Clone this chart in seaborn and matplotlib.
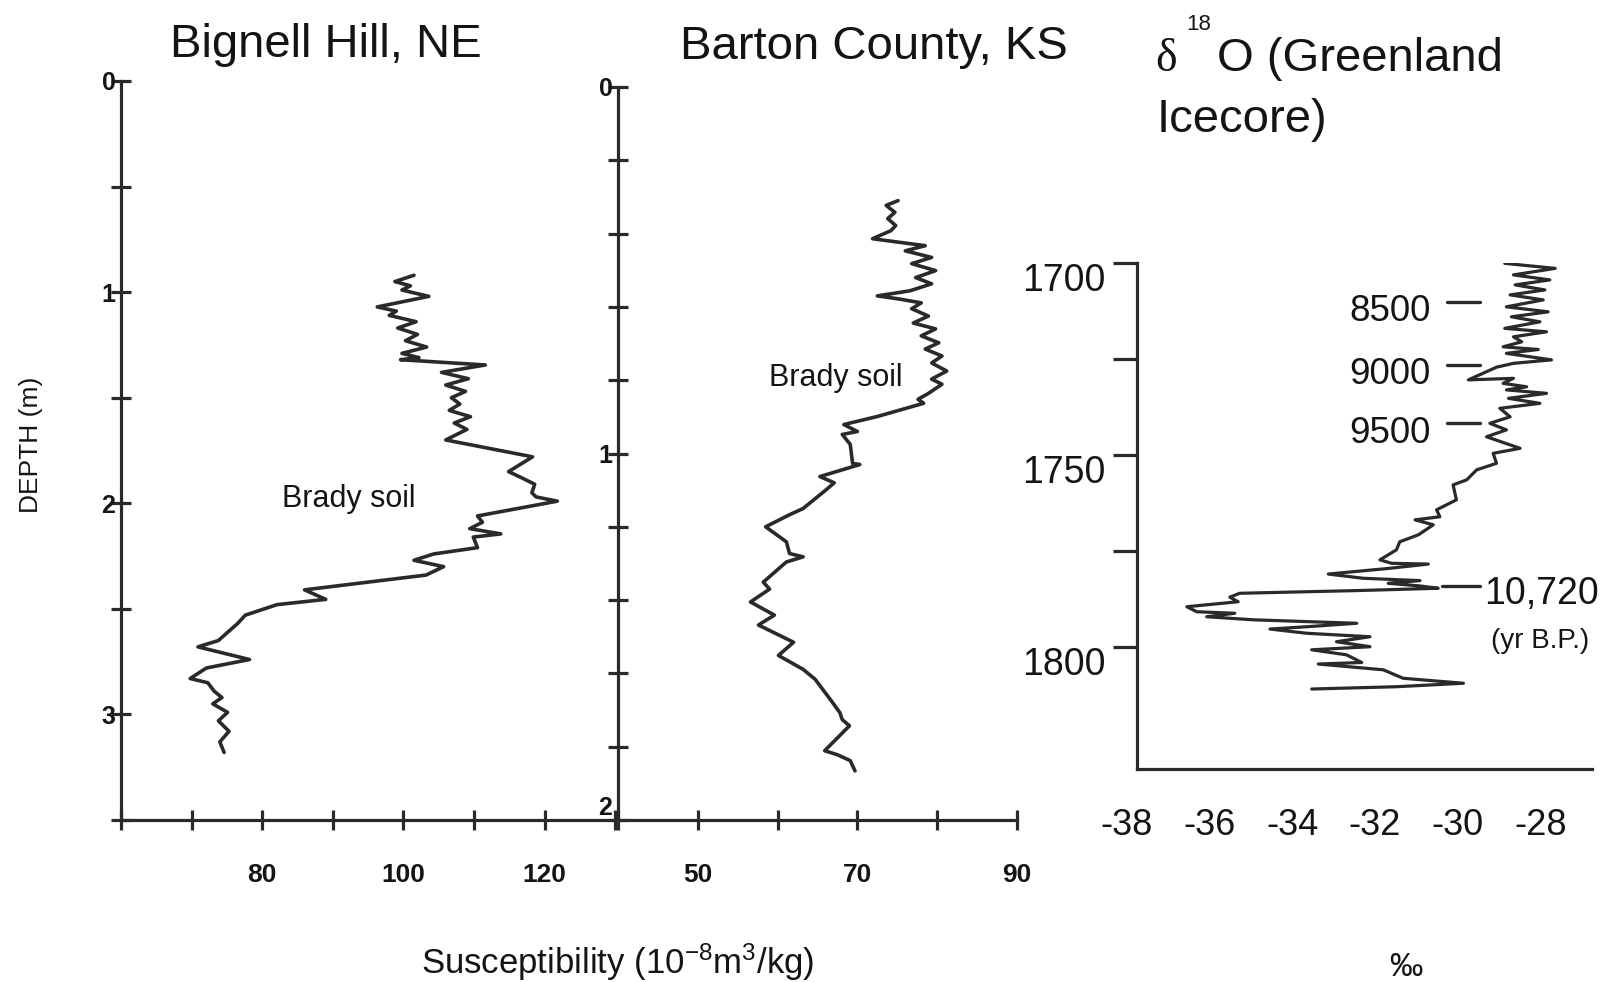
import numpy as np
import matplotlib
matplotlib.use('Agg')
import matplotlib.pyplot as plt
import seaborn as sns

# Bignell Hill, NE - depth (m) and susceptibility
bignell_depth = [0.92, 0.95, 0.97, 0.99, 1.02, 1.07, 1.09, 1.11, 1.14, 1.17, 1.20, 1.23, 1.26, 1.29, 1.31, 1.32,
                 1.345, 1.38, 1.41, 1.44, 1.47, 1.50, 1.53, 1.56, 1.59, 1.62, 1.65, 1.70,
                 1.78, 1.85, 1.88, 1.91, 1.95, 1.97, 1.99,
                 2.06, 2.09, 2.12, 2.145, 2.16, 2.21, 2.24, 2.27, 2.30, 2.34,
                 2.41, 2.455, 2.48, 2.53, 2.57, 2.62, 2.65, 2.68, 2.74, 2.78,
                 2.83, 2.85, 2.89, 2.92, 2.95, 2.99, 3.03, 3.08, 3.13, 3.18]
bignell_susc = [101.5, 98.8, 101.0, 99.8, 103.6, 96.3, 99.0, 98.0, 101.8, 99.2, 102.0, 100.3, 103.3, 99.8, 102.2, 99.6,
                111.6, 105.4, 109.2, 106.0, 108.8, 106.8, 108.0, 106.5, 109.5, 107.2, 109.0, 106.0,
                118.3, 114.9, 116.8, 118.6, 118.2, 118.8, 121.8,
                110.5, 111.2, 109.4, 113.8, 109.9, 110.5, 104.3, 101.5, 105.7, 103.2,
                86.0, 89.0, 82.1, 77.6, 76.5, 74.8, 73.8, 70.9, 78.2, 72.1,
                69.8, 72.3, 73.2, 74.3, 73.0, 75.1, 73.8, 75.3, 74.0, 74.6]

# Barton County, KS
barton_depth = [0.31, 0.323, 0.342, 0.359, 0.378, 0.392, 0.414, 0.433, 0.447, 0.465,
                0.482, 0.501, 0.52, 0.537, 0.556, 0.57, 0.578, 0.589, 0.605, 0.625,
                0.644, 0.66, 0.679, 0.698, 0.715, 0.734, 0.753, 0.775, 0.797, 0.811,
                0.836, 0.852, 0.863, 0.899, 0.921, 0.94, 0.948, 0.975, 1.027, 1.03,
                1.063, 1.08, 1.104, 1.15, 1.167, 1.2, 1.241, 1.273, 1.282, 1.296,
                1.351, 1.37, 1.405, 1.441, 1.468, 1.515, 1.551, 1.589, 1.616, 1.671,
                1.707, 1.726, 1.743, 1.811, 1.822, 1.838, 1.866]
barton_susc = [75.1, 73.6, 74.7, 73.8, 74.8, 74.2, 71.9, 78.5, 76.0, 79.3,
               76.8, 79.8, 77.3, 79.3, 76.6, 72.5, 75.1, 78.0, 76.8, 78.9,
               77.0, 79.8, 78.0, 80.2, 78.5, 80.6, 79.3, 81.2, 79.3, 80.6,
               78.9, 77.6, 78.3, 72.5, 68.3, 70.0, 68.1, 69.1, 69.4, 70.3,
               65.3, 67.1, 65.8, 63.2, 61.5, 58.5, 61.1, 61.5, 63.2, 61.1,
               58.2, 59.0, 56.6, 59.6, 57.6, 62.0, 60.1, 63.2, 64.7, 66.6,
               67.8, 68.1, 69.0, 65.9, 67.5, 69.1, 69.7]

# Greenland ice core delta 18O
ice_depth = [1700.2, 1701.5, 1703.2, 1704.5, 1705.8, 1707.1, 1708.4, 1709.7, 1711.5, 1712.8, 1714.1,
             1715.4, 1717.1, 1718.0, 1719.3, 1720.6, 1721.9, 1722.6, 1723.6, 1725.3, 1726.2, 1727.2,
             1730.5, 1730.1, 1731.4, 1732.3, 1733.1, 1734.0, 1735.3, 1736.6, 1737.9, 1740.1, 1741.8,
             1743.5, 1745.3, 1748.3, 1749.6, 1752.2, 1753.9, 1756.5,
             1757.8, 1761.7, 1764.3, 1766.1, 1766.9, 1768.2, 1770.8, 1772.6, 1774.7, 1777.3,
             1778.2, 1778.4, 1779.5, 1781.0, 1782.1, 1782.7, 1783.4, 1784.1, 1784.7, 1785.3,
             1786.0, 1787.0, 1788.2, 1789.5, 1790.8, 1791.2, 1792.1, 1792.9, 1793.8, 1794.7, 1795.3, 1796.4,
             1797.3, 1798.6, 1799.9, 1800.7, 1802.0, 1804.0, 1804.4, 1805.9, 1808.1, 1809.4, 1810.3, 1810.9]
ice_d18o = [-28.86, -27.64, -28.65, -27.77, -28.61, -27.89, -28.73, -27.93, -28.82, -27.81, -28.70,
            -28.01, -28.86, -27.85, -28.65, -28.45, -28.90, -28.05, -28.82, -27.73, -28.65, -29.06,
            -29.74, -28.65, -28.90, -28.33, -28.82, -27.85, -28.77, -28.01, -28.98, -28.73, -29.22,
            -28.82, -29.30, -28.49, -29.14, -29.06, -29.54, -29.78,
            -30.11, -30.03, -30.51, -30.43, -31.03, -30.59, -30.95, -31.40, -31.48, -31.88,
            -31.60, -30.71, -31.64, -33.13, -32.28, -30.91, -31.68, -30.91, -30.47, -32.44,
            -35.27, -35.51, -35.31, -36.55, -36.31, -35.39, -36.07, -34.94, -32.44, -33.65, -34.54, -33.65,
            -32.12, -32.93, -32.12, -33.53, -32.69, -32.32, -33.37, -31.80, -31.32, -29.86, -31.48, -33.53]

age_labels = ['8500', '9000', '9500']
age_depths = [1710.2, 1726.6, 1741.8]
event_label = '10,720'
event_depth = 1784.2

sns.set_style('ticks')
plt.rcParams['font.family'] = ['Liberation Sans', 'DejaVu Sans']
plt.rcParams['axes.unicode_minus'] = False
plt.rcParams['mathtext.fontset'] = 'custom'
plt.rcParams['mathtext.rm'] = 'Liberation Sans'
plt.rcParams['mathtext.it'] = 'Liberation Sans'
plt.rcParams['mathtext.sf'] = 'Liberation Sans'

W, H = 1621, 982
ink = '#2a2a2a'
txt = '#141414'
fig = plt.figure(figsize=(W / 100, H / 100), dpi=100)


def px_axes(left, top, right, bottom):
    return fig.add_axes([left / W, 1 - bottom / H, (right - left) / W, (bottom - top) / H])


ax1 = px_axes(121, 81, 618, 820)
ax2 = px_axes(618, 87, 1017, 820)
ax3 = px_axes(1114.5, 262.6, 1592, 769)

for ax in (ax1, ax2, ax3):
    ax.set_facecolor('none')
    for s in ('top', 'right'):
        ax.spines[s].set_visible(False)
    for s in ('left', 'bottom'):
        ax.spines[s].set_linewidth(2.3)
        ax.spines[s].set_color(ink)

# panel 1
sns.lineplot(x=bignell_susc, y=bignell_depth, sort=False, estimator=None, ax=ax1, color=ink, lw=2.6)
ax1.set_xlim(60, 130.4)
ax1.set_ylim(3.5, 0)
ax1.set_xticks(np.arange(60, 131, 10))
ax1.set_xticklabels(['', '', '80', '', '100', '', '120', ''])
ax1.set_yticks(np.arange(0, 3.51, 0.5))
ax1.set_yticklabels(['0', '', '1', '', '2', '', '3', ''])
ax1.tick_params(direction='inout', length=14, width=2.3, color=ink, labelcolor=txt)
ax1.tick_params(axis='x', pad=24, labelsize=19)
ax1.tick_params(axis='y', pad=-3, labelsize=18)
for lab in ax1.get_xticklabels() + ax1.get_yticklabels():
    lab.set_fontweight('bold')
ax1.text(92.3, 1.98, 'Brady soil', ha='center', va='center', fontsize=22, color=txt)

# panel 2
sns.lineplot(x=barton_susc, y=barton_depth, sort=False, estimator=None, ax=ax2, color=ink, lw=2.6)
ax2.set_xlim(40, 90)
ax2.set_ylim(2, 0)
ax2.set_xticks(np.arange(40, 91, 10))
ax2.set_xticklabels(['', '50', '', '70', '', '90'])
ax2.set_yticks(np.arange(0, 2.01, 0.2))
ax2.set_yticklabels(['0', '', '', '', '', '1', '', '', '', '', '2'])
ax2.tick_params(direction='inout', length=14, width=2.3, color=ink, labelcolor=txt)
ax2.tick_params(axis='x', pad=24, labelsize=19)
ax2.tick_params(axis='y', pad=-3, labelsize=18)
for lab in ax2.get_xticklabels() + ax2.get_yticklabels():
    lab.set_fontweight('bold')
ax2.get_yticklabels()[-1].set_va('bottom')
ax2.text(67.3, 0.795, 'Brady soil', ha='center', va='center', fontsize=22, color=txt)

# panel 3
sns.lineplot(x=ice_d18o, y=ice_depth, sort=False, estimator=None, ax=ax3, color=ink, lw=2.3)
ax3.set_xlim(-38.3, -26.75)
ax3.set_ylim(1831.7, 1700)
ax3.spines['left'].set_position(('data', -37.75))
ax3.spines['bottom'].set_bounds(-37.75, -26.75)
ax3.set_xticks(np.arange(-38, -27, 2))
ax3.tick_params(axis='x', length=0, pad=28, labelsize=26, labelcolor=txt)
ax3.set_yticks([1700, 1725, 1750, 1775, 1800])
ax3.set_yticklabels(['1700', '', '1750', '', '1800'])
ax3.tick_params(axis='y', direction='out', length=17, width=2.3, color=ink, pad=6, labelsize=27, labelcolor=txt)
for lab in ax3.get_yticklabels():
    lab.set_va('top')

for lab, d in zip(age_labels, age_depths):
    ax3.plot([-30.25, -29.45], [d, d], color=ink, lw=2.4, clip_on=False)
    ax3.text(-30.65, d + 2.6, lab, ha='right', va='center', fontsize=26.5, color=txt)
ax3.plot([-30.39, -29.46], [event_depth, event_depth], color=ink, lw=2.4, clip_on=False)
ax3.text(-29.35, event_depth + 1.9, event_label, ha='left', va='center', fontsize=27, color=txt, clip_on=False)
ax3.text(-29.2, 1798.4, '(yr B.P.)', ha='left', va='center', fontsize=20, color=txt, clip_on=False)

for ax in (ax1, ax2, ax3):
    ax.set_xlabel('')
    ax.set_ylabel('')

# titles and axis labels
fig.text(326 / W, 1 - 57 / H, 'Bignell Hill, NE', ha='center', va='baseline', fontsize=34, color=txt)
fig.text(874 / W, 1 - 59 / H, 'Barton County, KS', ha='center', va='baseline', fontsize=34, color=txt)
fig.text(1155 / W, 1 - 71 / H, 'δ', ha='left', va='baseline', fontsize=33, color=txt,
         family=['Liberation Serif', 'DejaVu Serif'])
fig.text(1186 / W, 1 - 30 / H, '18', ha='left', va='baseline', fontsize=16, color=txt)
fig.text(1217 / W, 1 - 71 / H, 'O (Greenland', ha='left', va='baseline', fontsize=34, color=txt)
fig.text(1157 / W, 1 - 132 / H, 'Icecore)', ha='left', va='baseline', fontsize=34, color=txt)
fig.text(31 / W, 1 - 445 / H, 'DEPTH (m)', rotation=90, ha='center', va='center', fontsize=19, color=txt)
fig.text(618 / W, 1 - 962 / H, r'Susceptibility (10$^{-8}$m$^{3}$/kg)', ha='center', va='center',
         fontsize=25, color=txt)
fig.text(1406 / W, 1 - 967 / H, '‰', ha='center', va='center', fontsize=24, color=txt)

fig.savefig('out.png', dpi=100, facecolor='white')
